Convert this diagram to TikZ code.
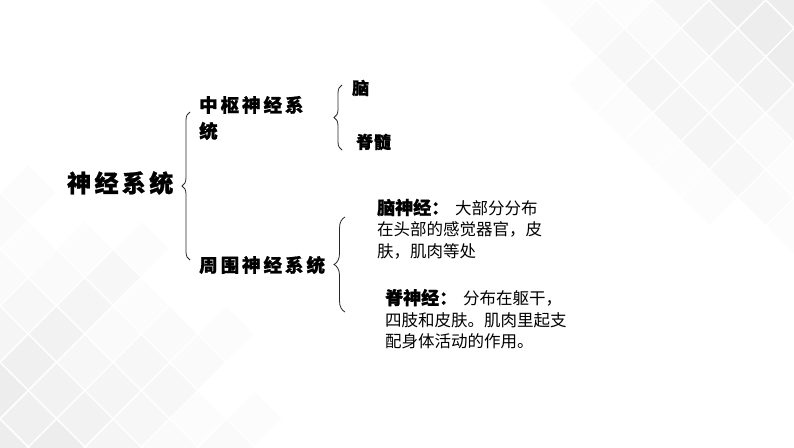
\documentclass[tikz,border=0pt]{standalone}
\usepackage{fontspec}
\newfontfamily\cjk{Noto Sans CJK SC}
\usetikzlibrary{decorations.pathreplacing}
\tikzset{
  bracestyle/.style={draw=black!85, line width=0.8pt, decorate, decoration={brace, amplitude=8pt}},
  head/.style={anchor=west, inner sep=0pt, font=\cjk\bfseries\fontsize{24}{26}\selectfont\addfontfeature{LetterSpace=14,FakeBold=1}},
  sub/.style={anchor=west, inner sep=0pt, align=left, font=\cjk\bfseries\fontsize{18.5}{26}\selectfont\addfontfeature{LetterSpace=16,FakeBold=1}},
  leaf/.style={anchor=west, inner sep=0pt, font=\cjk\bfseries\fontsize{17}{18}\selectfont\addfontfeature{LetterSpace=4,FakeBold=1}},
  desc/.style={anchor=west, inner sep=0pt, align=left, font=\cjk\fontsize{16.5}{21.5}\selectfont\addfontfeature{LetterSpace=0}},
}
\newcommand{\dhead}[1]{{\bfseries\fontsize{18}{21.5}\selectfont\addfontfeature{FakeBold=1}#1}\hspace{6pt}}
\begin{document}
\begin{tikzpicture}[x=1pt,y=-1pt]
\useasboundingbox (0,0) rectangle (794,447);
\fill[white] (0,0) rectangle (794,447);
% background diamonds
\begin{scope}
\clip (0,0) rectangle (794,447);
\foreach \i in {-7,...,7}{
 \foreach \j in {-7,...,7}{
  \pgfmathsetmacro{\cx}{794+(\i-\j)*28.28}
  \pgfmathsetmacro{\cy}{(\i+\j)*28.28}
  \pgfmathsetmacro{\dd}{veclen(794-\cx,\cy)}
  \pgfmathtruncatemacro{\lv}{min(7,max(0,8.5-\dd/30+mod(abs(3*\i+5*\j),3)-1))}
  \ifnum\lv>0
   \fill[black!\lv] (\cx-27,\cy) -- (\cx,\cy-27) -- (\cx+27,\cy) -- (\cx,\cy+27) -- cycle;
  \fi
 }}
\foreach \i in {-7,...,7}{
 \foreach \j in {-7,...,7}{
  \pgfmathsetmacro{\cx}{(\i-\j)*28.28}
  \pgfmathsetmacro{\cy}{447+(\i+\j)*28.28}
  \pgfmathsetmacro{\dd}{veclen(\cx,447-\cy)}
  \pgfmathtruncatemacro{\lv}{min(7,max(0,8.5-\dd/32+mod(abs(5*\i+3*\j),3)-1))}
  \ifnum\lv>0
   \fill[black!\lv] (\cx-27,\cy) -- (\cx,\cy-27) -- (\cx+27,\cy) -- (\cx,\cy+27) -- cycle;
  \fi
 }}
\end{scope}
% texts
\node[head] (root) at (67,183) {神经系统};
\node[sub] (cns) at (199,118) {中枢神经系\\统};
\node[sub] (pns) at (199,265) {周围神经系统};
\node[leaf] (brain) at (352,88) {脑};
\node[leaf] (cord) at (356,142) {脊髓};
\node[desc] (cn) at (377,229) {\dhead{脑神经：}大部分分布\\在头部的感觉器官，皮\\肤，肌肉等处};
\node[desc] (sn) at (385,319) {\dhead{脊神经：}分布在躯干，\\四肢和皮肤。肌肉里起支\\配身体活动的作用。};
% braces
\coordinate (b1t) at (190,112);
\coordinate (b1b) at (190,260);
\coordinate (b2t) at (342,85);
\coordinate (b2b) at (342,150);
\coordinate (b3t) at (345,217);
\coordinate (b3b) at (345,312);
\draw[bracestyle] (b1b) -- (b1t);
\draw[bracestyle] (b2b) -- (b2t);
\draw[bracestyle, decoration={amplitude=11pt}] (b3b) -- (b3t);
\end{tikzpicture}
\end{document}
